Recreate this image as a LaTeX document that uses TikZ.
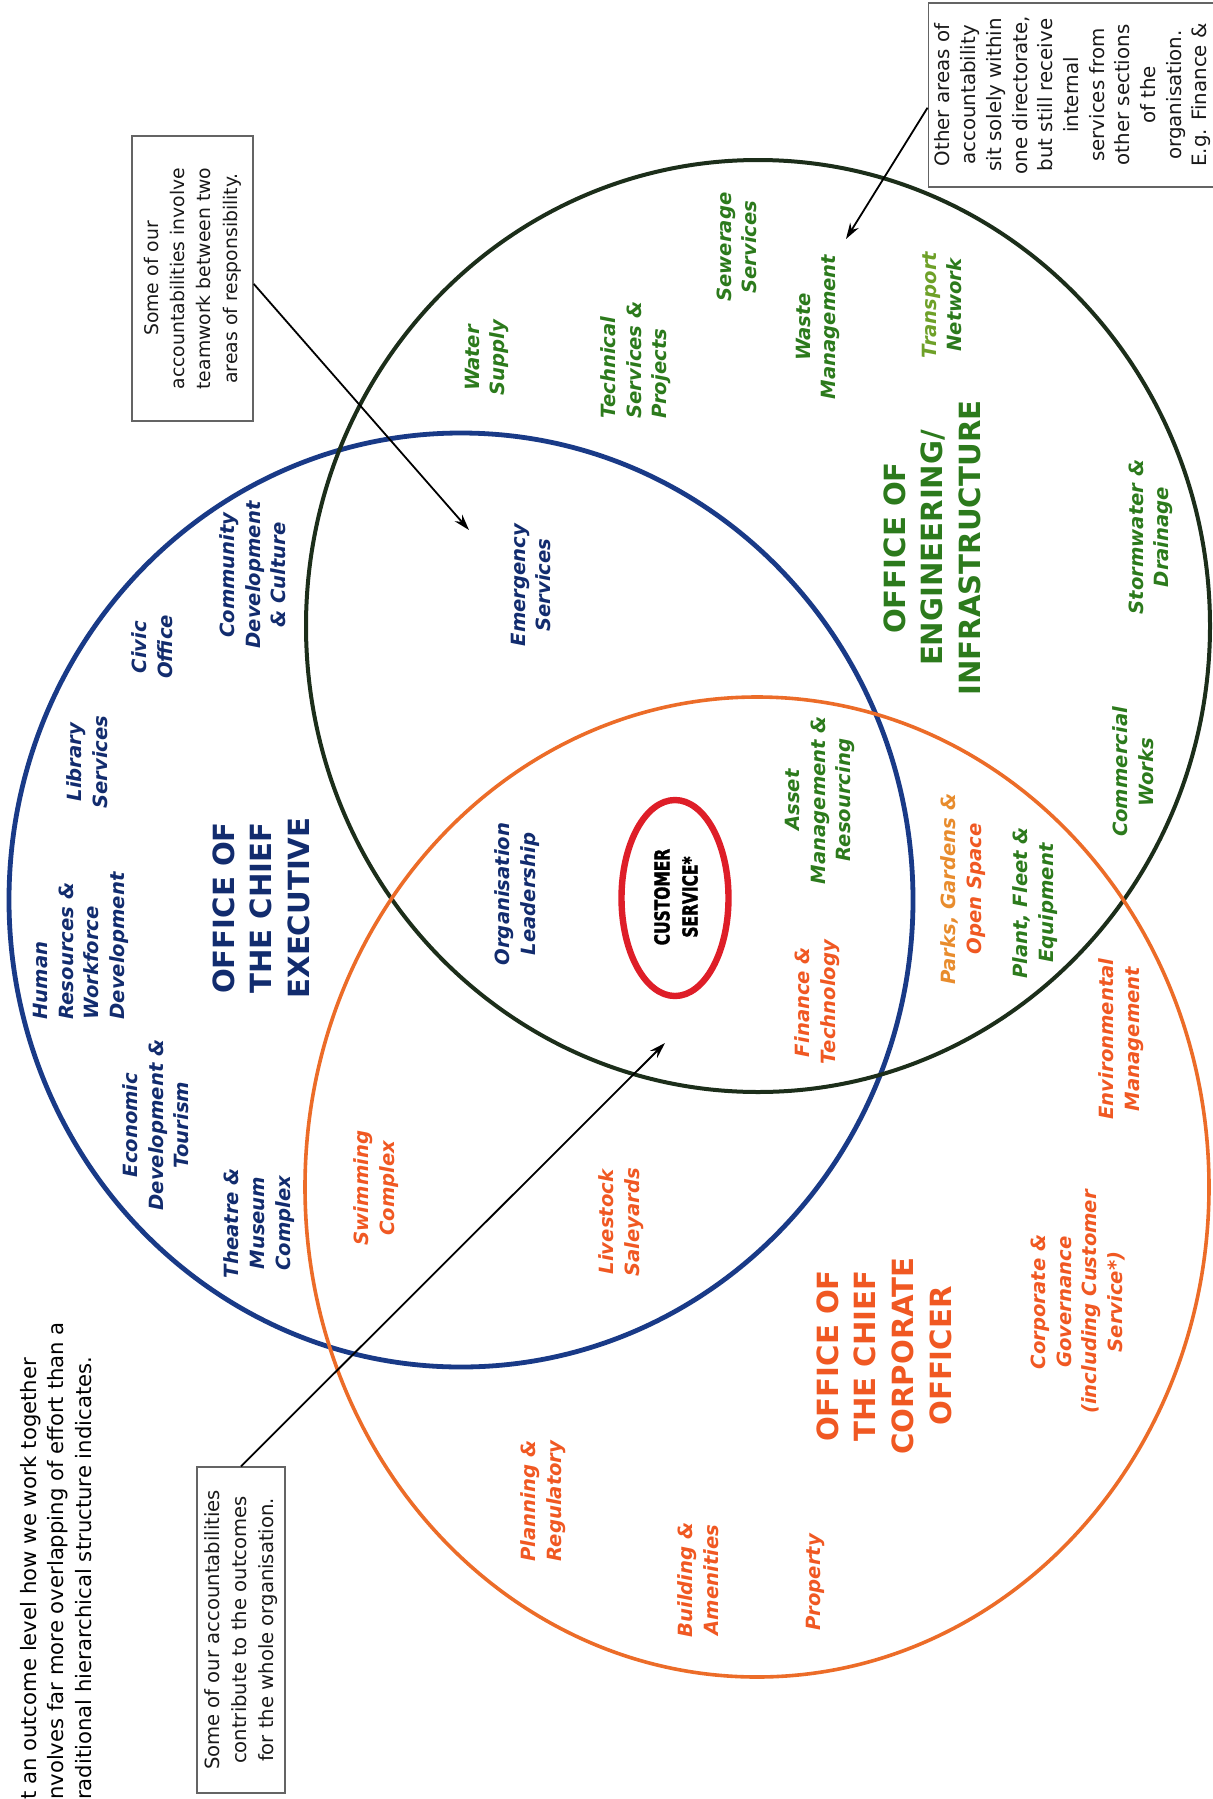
\documentclass[tikz,border=0pt]{standalone}
\usepackage{fontspec}
\setmainfont{DejaVu Sans}
\newfontfamily\csfont[FakeStretch=0.75, FakeBold=1.6]{DejaVu Sans}
\usetikzlibrary{arrows.meta}
\definecolor{ceonavy}{RGB}{18,44,110}
\definecolor{ceoring}{RGB}{25,58,135}
\definecolor{enggreen}{RGB}{44,122,28}
\definecolor{englight}{RGB}{110,160,40}
\definecolor{engring}{RGB}{28,46,26}
\definecolor{ccoorange}{RGB}{240,88,34}
\definecolor{ccolight}{RGB}{232,140,45}
\definecolor{ccoring}{RGB}{236,108,40}
\definecolor{csred}{RGB}{222,30,40}
\definecolor{boxgrey}{RGB}{100,100,100}
\begin{document}
\begin{tikzpicture}[x=0.5pt, y=-0.5pt,
    lbl/.style={rotate=90, align=center, inner sep=1pt,
      font=\fontsize{9.8}{12.8}\selectfont\bfseries\itshape},
    ttl/.style={rotate=90, align=center, inner sep=1pt,
      font=\fontsize{14.6}{18.8}\selectfont\bfseries},
    note/.style={rotate=90, align=center, draw=boxgrey, line width=0.7pt,
      text=black!90},
    pointer/.style={-{Stealth[length=8pt,width=5pt]}, line width=0.9pt}]
  \useasboundingbox (0,0) rectangle (1213,1799);
  \fill[white] (0,0) rectangle (1213,1799);
  \clip (0,0) rectangle (1213,1799);
  % the three directorates
  \draw[ceoring, line width=2.4pt] (461,900) ellipse [x radius=226pt, y radius=233.5pt];
  \draw[engring, line width=2pt] (758,626) ellipse [x radius=226pt, y radius=233pt];
  \draw[ccoring, line width=1.8pt] (757,1187) ellipse [x radius=226pt, y radius=245pt];
  \draw[csred, line width=3.2pt] (675,898) ellipse [x radius=26.75pt, y radius=49pt];
  % titles
  \node[ttl, text=ceonavy] (ceo) at (261,908) {OFFICE OF\\THE CHIEF\\EXECUTIVE};
  \node[ttl, text=enggreen] (eng) at (932,548) {OFFICE OF\\ENGINEERING/\\INFRASTRUCTURE};
  \node[ttl, text=ccoorange] (cco) at (884,1356) {OFFICE OF\\THE CHIEF\\CORPORATE\\OFFICER};
  \node[rotate=90, align=center, inner sep=1pt,
    font=\fontsize{10.3}{14}\selectfont\csfont\bfseries] (cs) at (676,897) {CUSTOMER\\SERVICE*};
  % chief executive
  \node[lbl, text=ceonavy] (civic) at (152,647) {Civic\\Office};
  \node[lbl, text=ceonavy] (library) at (87,762) {Library\\Services};
  \node[lbl, text=ceonavy, align=left] (hr) at (81,946) {Human\\Resources \&\\Workforce\\Development};
  \node[lbl, text=ceonavy] (econ) at (156,1125) {Economic\\Development \&\\Tourism};
  \node[lbl, text=ceonavy] (theatre) at (259,1223) {Theatre \&\\Museum\\Complex};
  \node[lbl, text=ceonavy] (community) at (253,575) {Community\\Development\\\& Culture};
  \node[lbl, text=ceonavy] (emergency) at (531,585) {Emergency\\Services};
  \node[lbl, text=ceonavy] (orglead) at (517,894) {Organisation\\Leadership};
  % engineering
  \node[lbl, text=enggreen] (water) at (487,358) {Water\\Supply};
  \node[lbl, text=enggreen, align=left] (techsvc) at (636,360) {Technical\\Services \&\\Projects};
  \node[lbl, text=enggreen] (sewer) at (737,247) {Sewerage\\Services};
  \node[lbl, text=enggreen] (waste) at (818,327) {Waste\\Management};
  \node[lbl, text=enggreen] (transport) at (942,305) {\textcolor{englight}{Transport}\\Network};
  \node[lbl, text=enggreen] (storm) at (1151,537) {Stormwater \&\\Drainage};
  \node[lbl, text=enggreen] (commercial) at (1133,772) {Commercial\\Works};
  \node[lbl, text=enggreen] (plant) at (1035,903) {Plant, Fleet \&\\Equipment};
  \node[lbl, text=enggreen] (asset) at (820,800) {Asset\\Management \&\\Resourcing};
  % corporate
  \node[lbl, text=ccoorange] (parks) at (963,889) {\textcolor{ccolight}{Parks, Gardens \&}\\Open Space};
  \node[lbl, text=ccoorange] (envmgmt) at (1121,1039) {Environmental\\Management};
  \node[lbl, text=ccoorange] (finance) at (817,1002) {Finance \&\\Technology};
  \node[lbl, text=ccoorange] (swim) at (376,1188) {Swimming\\Complex};
  \node[lbl, text=ccoorange] (livestock) at (621,1222) {Livestock\\Saleyards};
  \node[lbl, text=ccoorange] (planning) at (543,1501) {Planning \&\\Regulatory};
  \node[lbl, text=ccoorange] (building) at (698,1580) {Building \&\\Amenities};
  \node[lbl, text=ccoorange] (property) at (815,1582) {Property};
  \node[lbl, text=ccoorange] (corpgov) at (1078,1302) {Corporate \&\\Governance\\(including Customer\\Service*)};
  % notes
  \node[note, font=\fontsize{9.4}{13.2}\selectfont, minimum width=142.5pt, minimum height=60.5pt]
    (boxA) at (192.5,278.5) {Some of our\\accountabilities involve\\teamwork between two\\areas of responsibility.};
  \node[note, font=\fontsize{9.9}{12.85}\selectfont, minimum width=92pt]
    (boxB) at (1073,95) {Other areas of\\accountability\\sit solely within\\one directorate,\\but still receive\\internal\\services from\\other sections\\of the\\organisation.\\E.g. Finance \&};
  \node[note, font=\fontsize{9.8}{13.5}\selectfont, minimum width=163pt, minimum height=44pt]
    (boxC) at (241,1630) {Some of our accountabilities\\contribute to the outcomes\\for the whole organisation.};
  \node[rotate=90, align=left, inner sep=0pt, font=\fontsize{10.6}{13.75}\selectfont]
    (intro) at (56,1561) {t an outcome level how we work together\\nvolves far more overlapping of effort than a\\raditional hierarchical structure indicates.};
  \coordinate (tipA) at (469,530);
  \coordinate (tipB) at (846,239);
  \coordinate (tipC) at (665,1043);
  \begin{scope}[pointer]
    \draw (boxA.265) -- (tipA);
    \draw (boxB.95) -- (tipB);
    \draw (boxC.east) -- (tipC);
  \end{scope}
\end{tikzpicture}
\end{document}
